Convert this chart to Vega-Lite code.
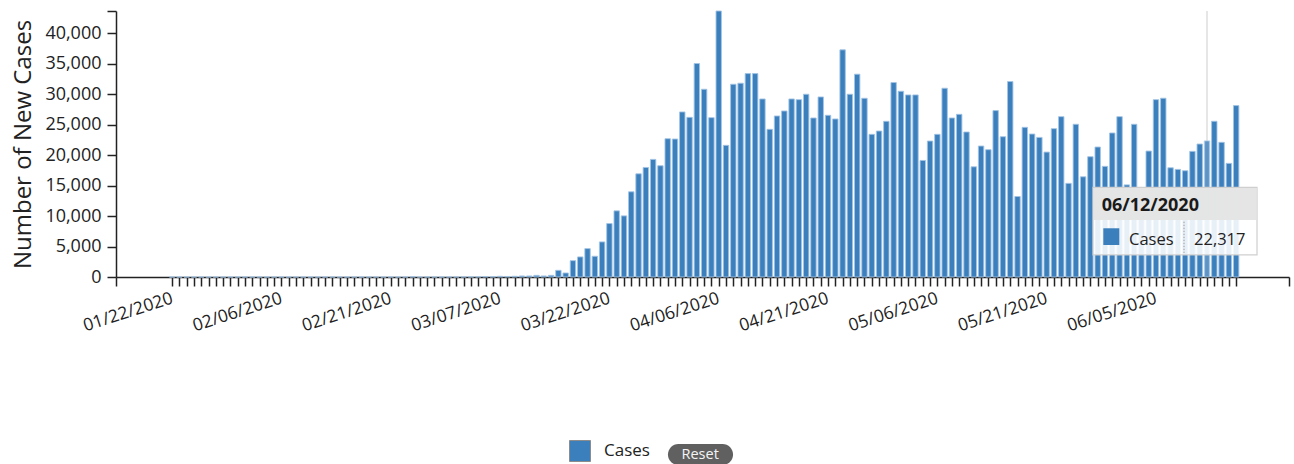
{
  "$schema": "https://vega.github.io/schema/vega-lite/v6.json",
  "width": 1173,
  "height": 266,
  "autosize": {"type": "none"},
  "padding": {"left": 116, "top": 11, "right": 5, "bottom": 187},
  "background": "white",
  "config": {
    "view": {"stroke": null},
    "font": "Open Sans",
    "axis": {"labelFont": "Open Sans", "titleFont": "Open Sans"},
    "legend": {"labelFont": "Open Sans"},
    "text": {"font": "Open Sans"}
  },
  "data": {
    "format": {"parse": {"date": "date"}},
    "values": [
      {"date": "2020-01-22", "cases": 1}, {"date": "2020-01-23", "cases": 0}, {"date": "2020-01-24", "cases": 1},
      {"date": "2020-01-25", "cases": 0}, {"date": "2020-01-26", "cases": 3}, {"date": "2020-01-27", "cases": 0},
      {"date": "2020-01-28", "cases": 0}, {"date": "2020-01-29", "cases": 0}, {"date": "2020-01-30", "cases": 0},
      {"date": "2020-01-31", "cases": 2}, {"date": "2020-02-01", "cases": 1}, {"date": "2020-02-02", "cases": 0},
      {"date": "2020-02-03", "cases": 3}, {"date": "2020-02-04", "cases": 0}, {"date": "2020-02-05", "cases": 0},
      {"date": "2020-02-06", "cases": 0}, {"date": "2020-02-07", "cases": 0}, {"date": "2020-02-08", "cases": 0},
      {"date": "2020-02-09", "cases": 0}, {"date": "2020-02-10", "cases": 0}, {"date": "2020-02-11", "cases": 1},
      {"date": "2020-02-12", "cases": 0}, {"date": "2020-02-13", "cases": 1}, {"date": "2020-02-14", "cases": 0},
      {"date": "2020-02-15", "cases": 0}, {"date": "2020-02-16", "cases": 0}, {"date": "2020-02-17", "cases": 0},
      {"date": "2020-02-18", "cases": 0}, {"date": "2020-02-19", "cases": 0}, {"date": "2020-02-20", "cases": 0},
      {"date": "2020-02-21", "cases": 2}, {"date": "2020-02-22", "cases": 0}, {"date": "2020-02-23", "cases": 0},
      {"date": "2020-02-24", "cases": 36}, {"date": "2020-02-25", "cases": 0}, {"date": "2020-02-26", "cases": 6},
      {"date": "2020-02-27", "cases": 1}, {"date": "2020-02-28", "cases": 2}, {"date": "2020-02-29", "cases": 8},
      {"date": "2020-03-01", "cases": 6}, {"date": "2020-03-02", "cases": 23}, {"date": "2020-03-03", "cases": 20},
      {"date": "2020-03-04", "cases": 31}, {"date": "2020-03-05", "cases": 70}, {"date": "2020-03-06", "cases": 48},
      {"date": "2020-03-07", "cases": 115}, {"date": "2020-03-08", "cases": 90}, {"date": "2020-03-09", "cases": 120},
      {"date": "2020-03-10", "cases": 170}, {"date": "2020-03-11", "cases": 170}, {"date": "2020-03-12", "cases": 270},
      {"date": "2020-03-13", "cases": 170}, {"date": "2020-03-14", "cases": 270}, {"date": "2020-03-15", "cases": 1095},
      {"date": "2020-03-16", "cases": 660}, {"date": "2020-03-17", "cases": 2680}, {"date": "2020-03-18", "cases": 3290},
      {"date": "2020-03-19", "cases": 4655}, {"date": "2020-03-20", "cases": 3400}, {"date": "2020-03-21", "cases": 5750},
      {"date": "2020-03-22", "cases": 8760}, {"date": "2020-03-23", "cases": 10845}, {"date": "2020-03-24", "cases": 10020},
      {"date": "2020-03-25", "cases": 13970}, {"date": "2020-03-26", "cases": 16920}, {"date": "2020-03-27", "cases": 17960},
      {"date": "2020-03-28", "cases": 19280}, {"date": "2020-03-29", "cases": 18240}, {"date": "2020-03-30", "cases": 22675},
      {"date": "2020-03-31", "cases": 22620}, {"date": "2020-04-01", "cases": 27060}, {"date": "2020-04-02", "cases": 26180},
      {"date": "2020-04-03", "cases": 35000}, {"date": "2020-04-04", "cases": 30780}, {"date": "2020-04-05", "cases": 26125},
      {"date": "2020-04-06", "cases": 43610}, {"date": "2020-04-07", "cases": 21580}, {"date": "2020-04-08", "cases": 31600},
      {"date": "2020-04-09", "cases": 31770}, {"date": "2020-04-10", "cases": 33350}, {"date": "2020-04-11", "cases": 33350},
      {"date": "2020-04-12", "cases": 29190}, {"date": "2020-04-13", "cases": 24210}, {"date": "2020-04-14", "cases": 26400},
      {"date": "2020-04-15", "cases": 27220}, {"date": "2020-04-16", "cases": 29190}, {"date": "2020-04-17", "cases": 29080},
      {"date": "2020-04-18", "cases": 29960}, {"date": "2020-04-19", "cases": 26070}, {"date": "2020-04-20", "cases": 29520},
      {"date": "2020-04-21", "cases": 26510}, {"date": "2020-04-22", "cases": 25910}, {"date": "2020-04-23", "cases": 37240},
      {"date": "2020-04-24", "cases": 29960}, {"date": "2020-04-25", "cases": 33250}, {"date": "2020-04-26", "cases": 29300},
      {"date": "2020-04-27", "cases": 23390}, {"date": "2020-04-28", "cases": 23930}, {"date": "2020-04-29", "cases": 25520},
      {"date": "2020-04-30", "cases": 31880}, {"date": "2020-05-01", "cases": 30450}, {"date": "2020-05-02", "cases": 29850},
      {"date": "2020-05-03", "cases": 29850}, {"date": "2020-05-04", "cases": 19110}, {"date": "2020-05-05", "cases": 22290},
      {"date": "2020-05-06", "cases": 23390}, {"date": "2020-05-07", "cases": 30950}, {"date": "2020-05-08", "cases": 26070},
      {"date": "2020-05-09", "cases": 26670}, {"date": "2020-05-10", "cases": 23770}, {"date": "2020-05-11", "cases": 18070},
      {"date": "2020-05-12", "cases": 21470}, {"date": "2020-05-13", "cases": 20870}, {"date": "2020-05-14", "cases": 27280},
      {"date": "2020-05-15", "cases": 23000}, {"date": "2020-05-16", "cases": 32040}, {"date": "2020-05-17", "cases": 13200},
      {"date": "2020-05-18", "cases": 24540}, {"date": "2020-05-19", "cases": 23440}, {"date": "2020-05-20", "cases": 22890},
      {"date": "2020-05-21", "cases": 20480}, {"date": "2020-05-22", "cases": 24320}, {"date": "2020-05-23", "cases": 26290},
      {"date": "2020-05-24", "cases": 15350}, {"date": "2020-05-25", "cases": 25040}, {"date": "2020-05-26", "cases": 16430},
      {"date": "2020-05-27", "cases": 19720}, {"date": "2020-05-28", "cases": 21310}, {"date": "2020-05-29", "cases": 18140},
      {"date": "2020-05-30", "cases": 23610}, {"date": "2020-05-31", "cases": 26290}, {"date": "2020-06-01", "cases": 15100},
      {"date": "2020-06-02", "cases": 25040}, {"date": "2020-06-03", "cases": 14500}, {"date": "2020-06-04", "cases": 20650},
      {"date": "2020-06-05", "cases": 29080}, {"date": "2020-06-06", "cases": 29310}, {"date": "2020-06-07", "cases": 17910},
      {"date": "2020-06-08", "cases": 17640}, {"date": "2020-06-09", "cases": 17420}, {"date": "2020-06-10", "cases": 20600},
      {"date": "2020-06-11", "cases": 21800}, {"date": "2020-06-12", "cases": 22317}, {"date": "2020-06-13", "cases": 25530},
      {"date": "2020-06-14", "cases": 22080}, {"date": "2020-06-15", "cases": 18630}, {"date": "2020-06-16", "cases": 28100}
    ]
  },
  "encoding": {
    "x": {
      "field": "date",
      "type": "temporal",
      "scale": {"type": "utc", "domain": [1578985920000, 1592892000000], "padding": 0},
      "axis": {
        "title": null,
        "grid": false,
        "values": [1578985920000,
          1579651200000, 1579737600000, 1579824000000, 1579910400000, 1579996800000, 1580083200000, 1580169600000,
          1580256000000, 1580342400000, 1580428800000, 1580515200000, 1580601600000, 1580688000000, 1580774400000,
          1580860800000, 1580947200000, 1581033600000, 1581120000000, 1581206400000, 1581292800000, 1581379200000,
          1581465600000, 1581552000000, 1581638400000, 1581724800000, 1581811200000, 1581897600000, 1581984000000,
          1582070400000, 1582156800000, 1582243200000, 1582329600000, 1582416000000, 1582502400000, 1582588800000,
          1582675200000, 1582761600000, 1582848000000, 1582934400000, 1583020800000, 1583107200000, 1583193600000,
          1583280000000, 1583366400000, 1583452800000, 1583539200000, 1583625600000, 1583712000000, 1583798400000,
          1583884800000, 1583971200000, 1584057600000, 1584144000000, 1584230400000, 1584316800000, 1584403200000,
          1584489600000, 1584576000000, 1584662400000, 1584748800000, 1584835200000, 1584921600000, 1585008000000,
          1585094400000, 1585180800000, 1585267200000, 1585353600000, 1585440000000, 1585526400000, 1585612800000,
          1585699200000, 1585785600000, 1585872000000, 1585958400000, 1586044800000, 1586131200000, 1586217600000,
          1586304000000, 1586390400000, 1586476800000, 1586563200000, 1586649600000, 1586736000000, 1586822400000,
          1586908800000, 1586995200000, 1587081600000, 1587168000000, 1587254400000, 1587340800000, 1587427200000,
          1587513600000, 1587600000000, 1587686400000, 1587772800000, 1587859200000, 1587945600000, 1588032000000,
          1588118400000, 1588204800000, 1588291200000, 1588377600000, 1588464000000, 1588550400000, 1588636800000,
          1588723200000, 1588809600000, 1588896000000, 1588982400000, 1589068800000, 1589155200000, 1589241600000,
          1589328000000, 1589414400000, 1589500800000, 1589587200000, 1589673600000, 1589760000000, 1589846400000,
          1589932800000, 1590019200000, 1590105600000, 1590192000000, 1590278400000, 1590364800000, 1590451200000,
          1590537600000, 1590624000000, 1590710400000, 1590796800000, 1590883200000, 1590969600000, 1591056000000,
          1591142400000, 1591228800000, 1591315200000, 1591401600000, 1591488000000, 1591574400000, 1591660800000,
          1591747200000, 1591833600000, 1591920000000, 1592006400000, 1592092800000, 1592179200000, 1592265600000,
          1592892000000],
        "labelExpr": "(time(datum.value) >= 1579651200000 && (time(datum.value) - 1579651200000) % 1296000000 === 0) ? utcFormat(datum.value, '%m/%d/%Y') : ''",
        "labelAngle": -18,
        "labelAlign": "right",
        "labelBaseline": "top",
        "labelFontSize": 17.5,
        "labelColor": "#222222",
        "labelPadding": 3,
        "labelOffset": -3,
        "labelOverlap": false,
        "labelFlush": false,
        "labelBound": false,
        "tickSize": 9,
        "tickWidth": 1.5,
        "tickColor": "#222222",
        "domainColor": "#222222",
        "domainWidth": 1.5
      }
    }
  },
  "layer": [
    {
      "transform": [{"filter": "utcmonth(datum.date) === 5 && utcdate(datum.date) === 12"}],
      "mark": {"type": "rule", "color": "#dedede", "strokeWidth": 1.5},
      "encoding": {}
    },
    {
      "mark": {"type": "bar", "size": 5.4, "stroke": "#a3c4e4", "strokeWidth": 0.9},
      "encoding": {
        "y": {
          "field": "cases",
          "type": "quantitative",
          "scale": {"domain": [0, 43610], "nice": false},
          "axis": {
            "title": "Number of New Cases",
            "titleFontSize": 24,
            "titleFontWeight": "normal",
            "titleColor": "#222222",
            "titlePadding": 9,
            "grid": false,
            "values": [0, 5000, 10000, 15000, 20000, 25000, 30000, 35000, 40000, 43610],
            "labelExpr": "datum.value > 40000 ? '' : format(datum.value, ',')",
            "labelFontSize": 18,
            "labelColor": "#222222",
            "labelPadding": 6,
            "labelOverlap": false,
            "tickSize": 9,
            "tickWidth": 1.5,
            "tickColor": "#222222",
            "domainColor": "#222222",
            "domainWidth": 1.5
          }
        },
        "color": {
          "datum": "Cases",
          "type": "nominal",
          "scale": {"domain": ["Cases"], "range": ["#3b7fbd"]},
          "legend": {
            "orient": "none",
            "legendX": 453,
            "legendY": 429,
            "direction": "horizontal",
            "title": null,
            "padding": 0,
            "symbolType": "square",
            "symbolSize": 441,
            "symbolStrokeColor": "#8c8c8c",
            "symbolStrokeWidth": 1,
            "symbolOpacity": 1,
            "labelFontSize": 17,
            "labelColor": "#222222",
            "labelBaseline": "middle",
            "labelOffset": 13
          }
        },
        "opacity": {
          "condition": {"test": "utcmonth(datum.date) === 5 && utcdate(datum.date) === 12", "value": 0.8},
          "value": 1
        }
      }
    },
    {
      "transform": [{"filter": "utcmonth(datum.date) === 5 && utcdate(datum.date) === 12"}],
      "encoding": {
        "y": {
          "field": "cases",
          "type": "quantitative",
          "scale": {"domain": [0, 43610], "nice": false},
          "axis": {
            "title": "Number of New Cases",
            "titleFontSize": 24,
            "titleFontWeight": "normal",
            "titleColor": "#222222",
            "titlePadding": 9,
            "grid": false,
            "values": [0, 5000, 10000, 15000, 20000, 25000, 30000, 35000, 40000, 43610],
            "labelExpr": "datum.value > 40000 ? '' : format(datum.value, ',')",
            "labelFontSize": 18,
            "labelColor": "#222222",
            "labelPadding": 6,
            "labelOverlap": false,
            "tickSize": 9,
            "tickWidth": 1.5,
            "tickColor": "#222222",
            "domainColor": "#222222",
            "domainWidth": 1.5
          }
        }
      },
      "layer": [
        {
          "mark": {"type": "point", "filled": true, "size": 0, "opacity": 0, "color": "#606060"},
          "encoding": {
            "shape": {
              "datum": "Reset",
              "type": "nominal",
              "scale": {"domain": ["Reset"], "range": ["M -2.1 -1 L 2.1 -1 A 1 1 0 0 1 2.1 1 L -2.1 1 A 1 1 0 0 1 -2.1 -1 Z"]},
              "legend": {
                "orient": "none",
                "legendX": 574,
                "legendY": 433,
                "title": null,
                "padding": 0,
                "symbolSize": 441,
                "symbolOpacity": 1,
                "symbolFillColor": "#606060",
                "symbolStrokeWidth": 0,
                "labelFontSize": 14.5,
                "labelColor": "#f4f4f4",
                "labelOffset": -29.5
              }
            }
          }
        },
        {
          "mark": {"type": "rect", "fill": "#ffffff", "fillOpacity": 0.88, "stroke": "#cfcfcf", "strokeWidth": 1.2,
                   "xOffset": -114, "x2Offset": 50, "yOffset": 46.5, "y2Offset": 114},
          "encoding": {
            "x2": {"field": "date"},
            "y2": {"field": "cases"}
          }
        },
        {
          "mark": {"type": "rect", "fill": "#e4e4e4", "fillOpacity": 0.95,
                   "xOffset": -113.4, "x2Offset": 49.4, "yOffset": 47.1, "y2Offset": 79},
          "encoding": {
            "x2": {"field": "date"},
            "y2": {"field": "cases"}
          }
        },
        {
          "mark": {"type": "text", "align": "left", "baseline": "alphabetic", "dx": -105.3, "dy": 70,
                   "fontSize": 18, "fontWeight": "bold", "color": "#1a1a1a"},
          "encoding": {
            "text": {"field": "date", "type": "temporal", "timeUnit": "utcyearmonthdate", "format": "%m/%d/%Y"}
          }
        },
        {
          "mark": {"type": "rect", "fill": "#3b7fbd",
                   "xOffset": -103.7, "x2Offset": -87.7, "yOffset": 87.4, "y2Offset": 104.1},
          "encoding": {
            "x2": {"field": "date"},
            "y2": {"field": "cases"}
          }
        },
        {
          "mark": {"type": "text", "align": "left", "baseline": "alphabetic", "dx": -78, "dy": 104,
                   "fontSize": 16.5, "color": "#222222"},
          "encoding": {
            "text": {"value": "Cases"}
          }
        },
        {
          "mark": {"type": "rule", "strokeDash": [1.5, 1.5], "color": "#9a9a9a", "strokeWidth": 1,
                   "xOffset": -23, "yOffset": 80.8, "y2Offset": 112},
          "encoding": {
            "y2": {"field": "cases"}
          }
        },
        {
          "mark": {"type": "text", "align": "left", "baseline": "alphabetic", "dx": -13, "dy": 104,
                   "fontSize": 16.5, "color": "#222222"},
          "encoding": {
            "text": {"field": "cases", "type": "quantitative", "format": ","}
          }
        }
      ]
    }
  ]
}
